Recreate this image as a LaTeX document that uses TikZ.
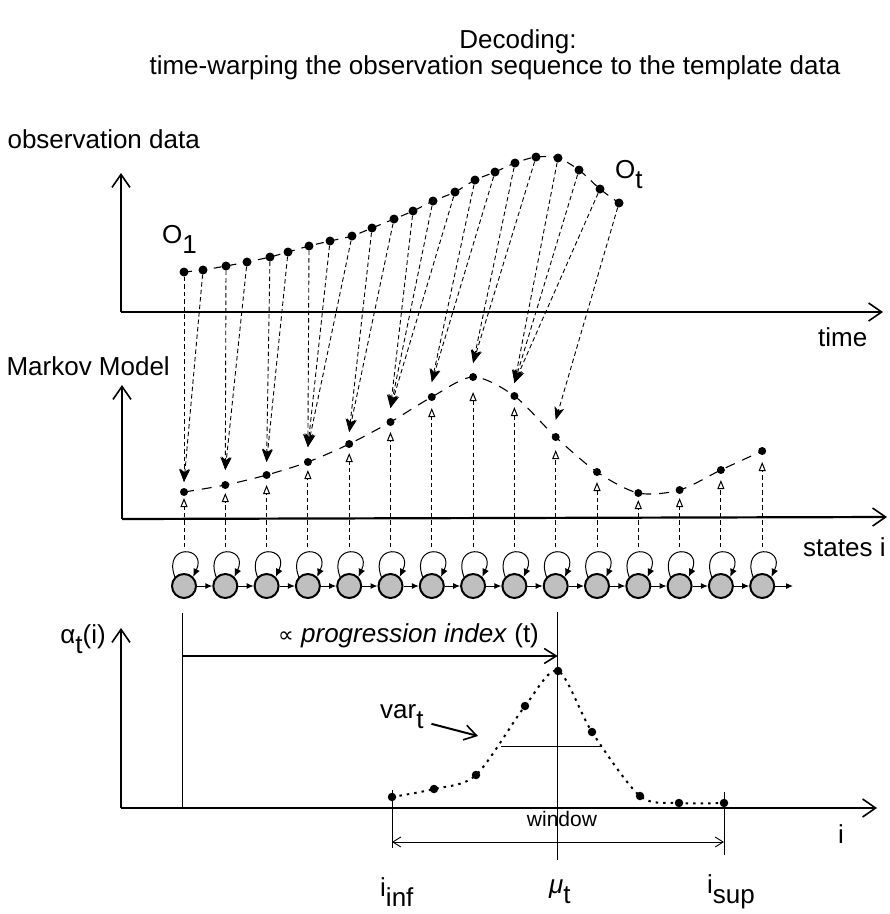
\documentclass[tikz,border=0pt]{standalone}
\usepackage{fontspec}
\setmainfont{Liberation Sans}
\newfontfamily\symfont{DejaVu Sans}
\usetikzlibrary{arrows.meta,positioning}
\newcommand{\lowsub}[1]{\raisebox{-10pt}{#1}}
\tikzset{
  axis/.style={line width=2.2pt,-{Straight Barb[length=13pt,width=18pt,line width=1.6pt]}},
  obsdot/.style={circle,fill=black,inner sep=0pt,minimum size=9pt},
  mdot/.style={circle,fill=black,inner sep=0pt,minimum size=8pt},
  adot/.style={circle,fill=black,inner sep=0pt,minimum size=8.5pt},
  state/.style={circle,draw,line width=2pt,fill=black!25,inner sep=0pt,minimum size=24pt},
  warp/.style={dash pattern=on 4.5pt off 3pt,line width=0.9pt,-{Stealth[length=13pt,width=10pt,inset=3.5pt]}},
  emit/.style={dash pattern=on 4.5pt off 3pt,line width=0.9pt,-{Triangle[open,length=9pt,width=7pt,line width=1pt]}},
  selfloop/.style={line width=1pt,-{Latex[length=8pt,width=7pt]}},
  chain/.style={line width=1pt,-{Latex[length=7pt,width=6pt]}},
  curve/.style={line width=1.1pt,dash pattern=on 8pt off 7pt},
  thinline/.style={line width=0.9pt},
  barb/.style={line width=2pt,-{Straight Barb[length=12pt,width=15pt,line width=1.6pt]}},
  lbl/.style={font=\fontsize{26}{30}\selectfont,inner sep=0pt},
}
\begin{document}
\begin{tikzpicture}[x=1pt,y=-1pt]
\useasboundingbox (0,0) rectangle (890,914);
\node[lbl] (title1) at (518,42) {Decoding:};
\node[lbl] (title2) at (495,68) {time-warping the observation sequence to the template data};

\draw[axis] (121,312) -- (121,173);
\draw[axis] (121,312) -- (883,312);
\node[lbl,anchor=base east] (obslbl) at (200,148) {observation data};
\node[lbl,anchor=base west] (timelbl) at (818,346) {time};
\draw[axis] (122,519) -- (122,385);
\draw[axis] (122,519) -- (887,517);
\node[lbl,anchor=base east] (mmlbl) at (170,375) {Markov Model};
\node[lbl,anchor=base west] (statelbl) at (803,556) {states i};
\draw[axis] (121,808) -- (121,628);
\draw[axis] (121,808) -- (877,808);
\node[lbl,anchor=base east] (alphalbl) at (106,643) {α\lowsub{t}(i)};
\node[lbl,anchor=base west] (ilbl) at (838,843) {i};

\foreach \k/\x/\y in {1/184/272,2/203/270,3/226/266,4/247/262,5/270/257,6/288/252,
  7/309/246,8/330/241,9/352/236,10/372/228,11/394/219,12/413/211,13/433/201,14/455/192,
  15/475/180,16/495/172,17/515/163,18/536/157,19/558/158,20/579/170,21/600/189,22/619/203}
  \node[obsdot] (o\k) at (\x,\y) {};
\draw[curve] plot[smooth] coordinates {(o1.center) (o2.center) (o3.center) (o4.center)
  (o5.center) (o6.center) (o7.center) (o8.center) (o9.center) (o10.center) (o11.center)
  (o12.center) (o13.center) (o14.center) (o15.center) (o16.center) (o17.center)
  (o18.center) (o19.center) (o20.center) (o21.center) (o22.center)};
\node[lbl,anchor=base west] (o1lbl) at (162,243) {O\lowsub{1}};
\node[lbl,anchor=base west] (otlbl) at (615,178) {O\lowsub{t}};

\foreach \j/\my/\by in {1/492/498,2/485/493,3/475/485,4/462/470,5/444/453,6/422/432,
  7/397/408,8/377/392,9/396/407,10/437/450,11/472/482,12/493/500,13/490/498,14/470/480,15/451/462}{
  \pgfmathsetmacro\sx{184+41.3*(\j-1)}
  \node[mdot] (m\j) at (\sx,\my) {};
  \coordinate (mb\j) at (\sx,\by);
  \coordinate (sb\j) at (\sx,547);
  \node[state] (s\j) at (\sx,586) {};
}
\draw[curve,dash pattern=on 10pt off 8pt] plot[smooth] coordinates {(m1.center) (m2.center)
  (m3.center) (m4.center) (m5.center) (m6.center) (m7.center) (m8.center) (m9.center)
  (m10.center) (m11.center) (m12.center) (m13.center) (m14.center) (m15.center)};
\foreach \j/\ty in {1/482,2/470,3/462,4/447,5/432,6/408,7/382,8/363,9/383,10/420}
  \coordinate (mt\j) at ({184+41.3*(\j-1)},\ty);
\foreach \k/\j in {1/1,2/1,3/2,4/2,5/3,6/3,7/4,8/4,9/4,10/5,11/5,12/6,13/6,14/6,
  15/7,16/7,17/8,18/8,19/9,20/9,21/9,22/10}
  \draw[warp] (o\k) -- (mt\j);
\foreach \j in {1,...,15}{
  \draw[emit] (sb\j) -- (mb\j);
  \draw[selfloop] (s\j.135) .. controls +(110:36pt) and +(65:34pt) .. (s\j.45);
}
\foreach \j [evaluate=\j as \k using int(\j+1)] in {1,...,14}
  \draw[chain] (s\j) -- (s\k);
\coordinate (send) at (793,586);
\draw[chain] (s15) -- (send);

\coordinate (ptop) at (182,613);
\coordinate (pbot) at (182,808);
\coordinate (pstart) at (182,656);
\coordinate (mutop) at (557.7,612);
\coordinate (mubot) at (557.7,860);
\coordinate (pend) at (557.7,656);
\draw[thinline] (ptop) -- (pbot);
\draw[thinline] (mutop) -- (mubot);
\draw[barb] (pstart) -- (pend);
\node[lbl,anchor=base west] (proglbl) at (278,642)
  {{\symfont\fontsize{22}{24}\selectfont ∝} \textit{progression index} (t)};

\foreach \k/\x/\y in {1/392/797,2/434/789,3/476/775,4/525/706,5/558/671,
  6/592/732,7/640/796,8/679/803,9/724/803}
  \node[adot] (a\k) at (\x,\y) {};
\draw[line width=2pt,dash pattern=on 2.5pt off 5pt] plot[smooth] coordinates {(a1.center)
  (a2.center) (a3.center) (a4.center) (a5.center) (a6.center) (a7.center) (a8.center) (a9.center)};
\coordinate (varl) at (501,746);
\coordinate (varr) at (602,746);
\draw[thinline] (varl) -- (varr);
\node[lbl,anchor=base west] (varlbl) at (380,718) {var\lowsub{t}};
\coordinate (vartip) at (478,736);
\draw[barb,shorten <=8pt] (varlbl) -- (vartip);

\coordinate (inftop) at (392,790);
\coordinate (infbot) at (392,848);
\coordinate (suptop) at (724,792);
\coordinate (supbot) at (724,855);
\draw[thinline] (inftop) -- (infbot);
\draw[thinline] (suptop) -- (supbot);
\coordinate (wl) at (392,842);
\coordinate (wr) at (724,842);
\draw[thinline,{Straight Barb[length=8pt,width=10pt]}-{Straight Barb[length=8pt,width=10pt]}] (wl) -- (wr);
\node[font=\fontsize{21}{24}\selectfont,inner sep=0pt] (winlbl) at (562,819) {window};
\node[lbl,anchor=base west] (inflbl) at (380,896) {i\lowsub{inf}};
\node[lbl,anchor=base west] (mulbl) at (549,893) {\textit{μ}\lowsub{t}};
\node[lbl,anchor=base west] (suplbl) at (707,893) {i\lowsub{sup}};
\end{tikzpicture}
\end{document}
